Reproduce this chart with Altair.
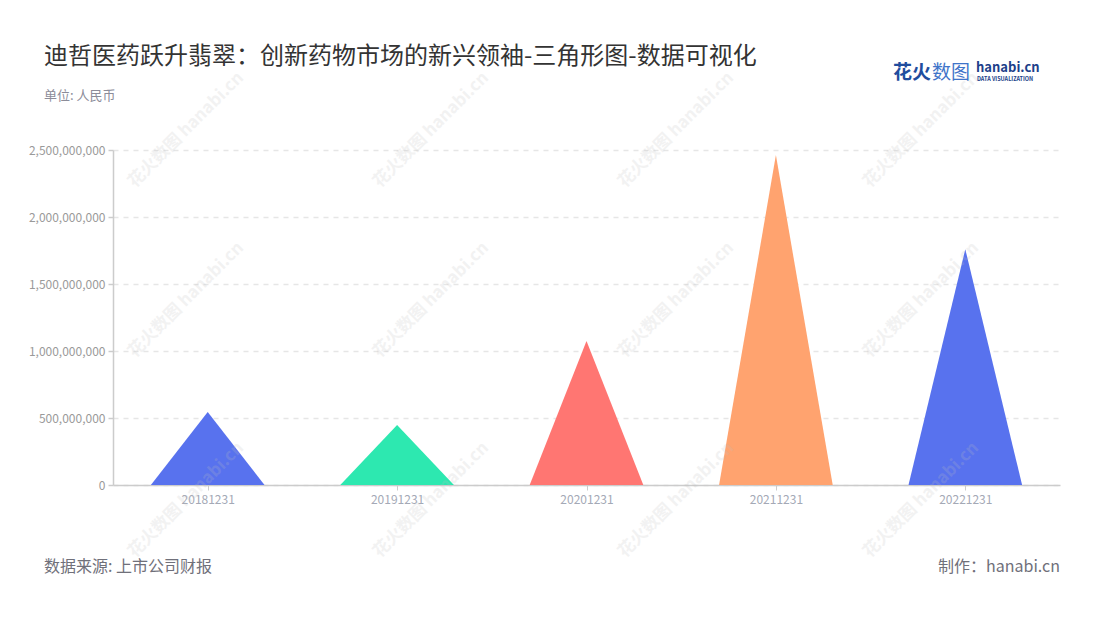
import altair as alt
import pandas as pd

# ---- data ----
categories = ["20181231", "20191231", "20201231", "20211231", "20221231"]
values = [545000000, 448000000, 1075000000, 2462000000, 1760000000]
colors = ["#5872EE", "#2DE8B0", "#FF7672", "#FFA36F", "#5872EE"]
y_ticks = [0, 500000000, 1000000000, 1500000000, 2000000000, 2500000000]

title_text = "迪哲医药跃升翡翠：创新药物市场的新兴领袖-三角形图-数据可视化"
subtitle_text = "单位: 人民币"
source_text = "数据来源: 上市公司财报"
maker_text = "制作：hanabi.cn"

FONT = "Noto Sans CJK SC"
W, H = 947, 335
HALF = 0.3  # half width of each triangle base, in category units

rows = []
for i, (c, v) in enumerate(zip(categories, values)):
    rows.append({"cat": c, "pos": i - HALF, "val": 0})
    rows.append({"cat": c, "pos": i, "val": v})
    rows.append({"cat": c, "pos": i + HALF, "val": 0})
df = pd.DataFrame(rows)

label_expr = "[" + ",".join("'%s'" % c for c in categories) + "][datum.value]"

tri = alt.Chart(df).mark_area(interpolate="linear", opacity=1).encode(
    x=alt.X("pos:Q",
            scale=alt.Scale(domain=[-0.5, len(categories) - 0.5], nice=False, zero=False),
            axis=alt.Axis(values=list(range(len(categories))), labelExpr=label_expr,
                          title=None, grid=False, domainColor="#cccccc", domainWidth=1.5,
                          tickColor="#cccccc", tickSize=5, tickWidth=1,
                          labelColor="#a4a9b6", labelFontSize=12, labelPadding=4,
                          labelFont=FONT)),
    y=alt.Y("val:Q", stack=None,
            scale=alt.Scale(domain=[0, 2500000000], nice=False),
            axis=alt.Axis(values=y_ticks, labelExpr="format(datum.value, ',')", title=None,
                          grid=True, gridColor="#e6e6e6", gridDash=[5, 5], gridWidth=1.5,
                          domainColor="#cccccc", domainWidth=1.5,
                          tickColor="#cccccc", tickSize=5, tickWidth=1.5,
                          labelColor="#9a9a9a", labelFontSize=12, labelPadding=3,
                          labelFont=FONT)),
    color=alt.Color("cat:N", scale=alt.Scale(domain=categories, range=colors), legend=None),
    detail="cat:N",
)

one = pd.DataFrame({"k": [0]})


def label(text, x, y, size, color, align="left", weight="normal", angle=0, opacity=1.0):
    return alt.Chart(one).mark_text(
        text=text, align=align, baseline="middle", font=FONT, fontSize=size,
        color=color, fontWeight=weight, angle=angle, opacity=opacity,
    ).encode(x=alt.value(x), y=alt.value(y))


layers = [tri]

# watermarks (faint, rotated)
for cx in [186, 431, 676, 921]:
    for cy in [130, 300, 500]:
        layers.append(label("花火数图 hanabi.cn", cx - 113, cy - 150, 17, "#bfbfbf",
                            align="center", weight="bold", angle=315, opacity=0.2))

layers += [
    label(title_text, -69, -93, 24, "#333333"),
    label(subtitle_text, -69, -54, 13, "#8c8c99"),
    label(source_text, -69, 417, 16, "#70707a"),
    label(maker_text, W, 417, 16, "#70707a", align="right"),
    label("花火", 780, -77, 19, "#1f4d9e", weight="bold"),
    label("数图", 819, -77, 19, "#3f74c9"),
    label("hanabi.cn", 863, -82, 13, "#1d3f8a", weight="bold"),
    label("DATA VISUALIZATION", 864, -71, 5.5, "#1d3f8a", weight="bold"),
]

chart = alt.layer(*layers).properties(
    width=W, height=H,
    autosize=alt.AutoSizeParams(type="none"),
    padding={"left": 105, "top": 142, "right": 32, "bottom": 120},
    background="white",
).configure_view(stroke=None)

chart.save("out.html", embed_options={"renderer": "svg", "actions": False})
